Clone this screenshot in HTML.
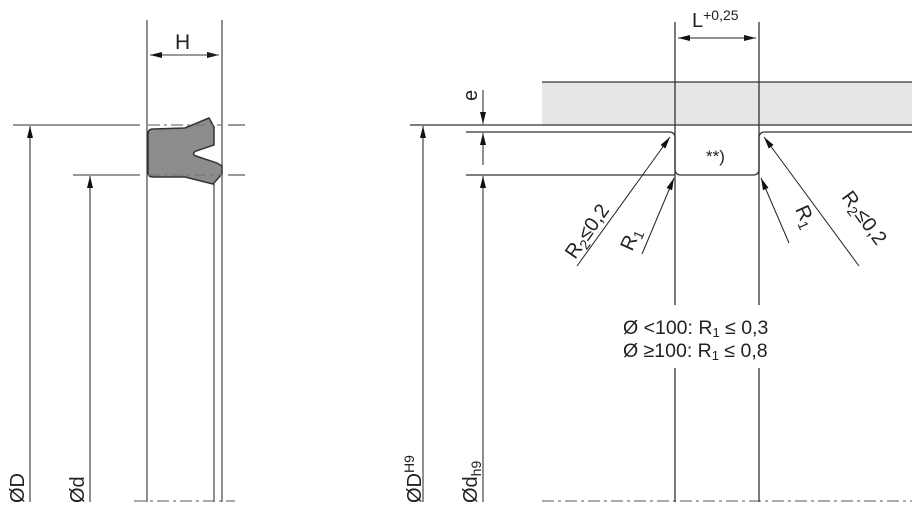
<!DOCTYPE html>
<html><head><meta charset="utf-8"><style>
html,body{margin:0;padding:0;background:#fff;}
svg{display:block;font-family:"Liberation Sans",sans-serif;}
</style></head><body>
<svg width="912" height="512" viewBox="0 0 912 512" xmlns="http://www.w3.org/2000/svg">
<defs>
<marker id="a" viewBox="0 0 12 6" refX="12" refY="3" markerWidth="13" markerHeight="6" markerUnits="userSpaceOnUse" orient="auto"><path d="M0,0 L12,3 L0,6 Z" fill="#111"/></marker>
</defs>
<g stroke="#333" stroke-width="1.1" fill="none">
<line x1="147" y1="20" x2="147" y2="502"/>
<line x1="222" y1="20" x2="222" y2="502"/>
<line x1="214" y1="183" x2="214" y2="502"/>
<line x1="13" y1="125" x2="140" y2="125"/>
<line x1="228" y1="125" x2="245" y2="125"/>
<line x1="73" y1="175" x2="140" y2="175"/>
<line x1="228" y1="175" x2="245" y2="175"/>
<line x1="150" y1="55" x2="219" y2="55" marker-end="url(#a)"/>
<line x1="219" y1="55" x2="150" y2="55" marker-end="url(#a)"/>
<line x1="30" y1="502" x2="30" y2="126" marker-end="url(#a)"/>
<line x1="90" y1="502" x2="90" y2="176" marker-end="url(#a)"/>
</g>
<path d="M153,129 L185,128 L209,118 L214,127 L214,145 L196,151 Q191,154 196,156 L217,163 L222,166 L222,174 L213,184 L185,177 L153,177 Q148,177 148,172 L148,134 Q148,129 153,129 Z" fill="#8c8c8c" stroke="#333" stroke-width="1.5"/>
<g stroke="#777" stroke-width="1.3" stroke-dasharray="12,4,3,4" fill="none">
<line x1="148" y1="125" x2="222" y2="125"/>
<line x1="148" y1="175" x2="222" y2="175"/>
<line x1="134" y1="501" x2="235" y2="501"/>
<line x1="542" y1="501" x2="912" y2="501"/>
</g>
<text x="175" y="49" font-size="21" fill="#222">H</text>
<text transform="translate(24,503) rotate(-90)" font-size="20" fill="#222">ØD</text>
<text transform="translate(84,503) rotate(-90)" font-size="20" fill="#222">Ød</text>

<rect x="542" y="82" width="370" height="43" fill="#e6e6e6"/>
<g stroke="#333" stroke-width="1.3" fill="none">
<line x1="542" y1="82" x2="912" y2="82"/>
<line x1="410" y1="125" x2="912" y2="125"/>
<path d="M466,132 L669,132 Q675,132 675,138 L675,169 Q675,175 681,175 L753,175 Q759,175 759,169 L759,138 Q759,132 765,132 L912,132"/>
<line x1="466" y1="175" x2="675" y2="175"/>
<line x1="675" y1="22" x2="675" y2="305"/>
<line x1="759" y1="22" x2="759" y2="305"/>
<line x1="675" y1="368" x2="675" y2="502"/>
<line x1="759" y1="368" x2="759" y2="502"/>
</g>
<g stroke="#222" stroke-width="1" fill="none">
<line x1="678" y1="38" x2="756" y2="38" marker-end="url(#a)"/>
<line x1="756" y1="38" x2="678" y2="38" marker-end="url(#a)"/>
<line x1="423" y1="502" x2="423" y2="126" marker-end="url(#a)"/>
<line x1="483" y1="90" x2="483" y2="124" marker-end="url(#a)"/>
<line x1="483" y1="165" x2="483" y2="133" marker-end="url(#a)"/>
<line x1="483" y1="502" x2="483" y2="176" marker-end="url(#a)"/>
<line x1="577" y1="266" x2="670" y2="137" marker-end="url(#a)"/>
<line x1="642" y1="254" x2="674" y2="178" marker-end="url(#a)"/>
<line x1="789" y1="243" x2="761" y2="178" marker-end="url(#a)"/>
<line x1="859" y1="266" x2="764" y2="137" marker-end="url(#a)"/>
</g>
<text x="692" y="27" font-size="20" fill="#222">L<tspan font-size="14" dy="-7">+0,25</tspan></text>
<text transform="translate(477,101) rotate(-90)" font-size="20" fill="#222">e</text>
<text x="706" y="162" font-size="17" fill="#222">**)</text>
<text transform="translate(575,260) rotate(-55)" font-size="20" fill="#222">R<tspan font-size="14" dy="4">2</tspan><tspan dy="-4">≤0,2</tspan></text>
<text transform="translate(632,252) rotate(-66)" font-size="20" fill="#222">R<tspan font-size="14" dy="4">1</tspan></text>
<text transform="translate(795,209) rotate(66)" font-size="20" fill="#222">R<tspan font-size="14" dy="4">1</tspan></text>
<text transform="translate(841,197) rotate(54)" font-size="20" fill="#222">R<tspan font-size="14" dy="4">2</tspan><tspan dy="-4">≤0,2</tspan></text>
<text x="623" y="334" font-size="19.5" fill="#222">Ø &lt;100: R<tspan font-size="13" dy="3">1</tspan><tspan dy="-3"> ≤ 0,3</tspan></text>
<text x="623" y="357" font-size="19.5" fill="#222">Ø ≥100: R<tspan font-size="13" dy="3">1</tspan><tspan dy="-3"> ≤ 0,8</tspan></text>
<text transform="translate(421,503) rotate(-90)" font-size="20" fill="#222">ØD<tspan font-size="14" dy="-7">H9</tspan></text>
<text transform="translate(477,503) rotate(-90)" font-size="20" fill="#222">Ød<tspan font-size="14" dy="4">h9</tspan></text>
</svg>
</body></html>
